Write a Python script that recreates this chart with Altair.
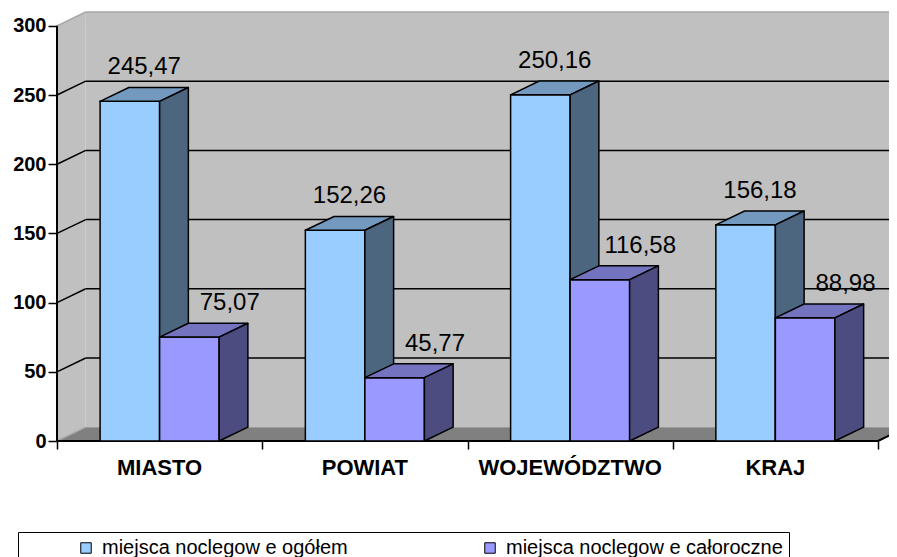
import altair as alt
import pandas as pd

# ---------------- data ----------------
categories = ["MIASTO", "POWIAT", "WOJEWÓDZTWO", "KRAJ"]
series_names = ["miejsca noclegow e ogółem", "miejsca noclegow e całoroczne"]
values_ogolem = [245.47, 152.26, 250.16, 156.18]
values_caloroczne = [75.07, 45.77, 116.58, 88.98]
y_ticks = [0, 50, 100, 150, 200, 250, 300]

# ---------------- style / geometry ----------------
FONT = "Liberation Sans"
FRONT = ["#99CCFF", "#9999FF"]
TOP = ["#7399BF", "#7373BF"]
SIDE = ["#4C6680", "#4C4C80"]
WALL = "#C0C0C0"
FLOOR = "#808080"
EDGE = "#A6A6A6"

PX_PER_CAT = 205.25
VIEW_W = 832
BAR_W = 0.29          # bar width in category units
DX = 0.14             # 3D depth, x (category units)
DY = 10.0             # 3D depth, y (value units)
X_MAX = VIEW_W / PX_PER_CAT
Y_MAX = 310.0
LABEL_DX = [0, 26]

n = len(categories)
y_top = y_ticks[-1]


def fmt(v):
    return f"{v:.2f}".replace(".", ",")


front_rows, side_rows, top_rows, label_rows = [], [], [], []
for s, vals in enumerate([values_ogolem, values_caloroczne]):
    for i, v in enumerate(vals):
        x0 = i + 0.5 - BAR_W + s * BAR_W
        x1 = x0 + BAR_W
        key = f"{s}-{i}"
        front_rows.append(dict(series=series_names[s], s=s, x0=x0, x1=x1, v=v, b=0.0))
        side_rows += [dict(key=key, s=s, x=x1, top=v, bot=0.0),
                      dict(key=key, s=s, x=x1 + DX, top=v + DY, bot=DY)]
        top_rows += [dict(key=key, s=s, y=v, xl=x0, xr=x1),
                     dict(key=key, s=s, y=v + DY, xl=x0 + DX, xr=x1 + DX)]
        label_rows.append(dict(s=s, x=(x0 + x1) / 2 + DX / 2, y=v + DY, text=fmt(v)))

df_front = pd.DataFrame(front_rows)
df_side = pd.DataFrame(side_rows)
df_top = pd.DataFrame(top_rows)
df_label = pd.DataFrame(label_rows)
df_cat = pd.DataFrame(dict(x=[i + 0.5 for i in range(n)], y=[0.0] * n, cat=categories))

xs = alt.Scale(domain=[0, X_MAX], nice=False, zero=False)
ys = alt.Scale(domain=[0, Y_MAX], nice=False, zero=False)

AX_X = alt.Axis(values=list(range(n + 1)), labels=False, domain=False, grid=False, ticks=True,
                tickSize=8, tickColor="black", tickWidth=1.5, title=None)
AX_Y = alt.Axis(values=y_ticks, domain=False, grid=False, tickSize=9, tickColor="black",
                tickWidth=1.5, labelFont=FONT, labelFontSize=20, labelFontWeight="bold",
                labelColor="black", labelPadding=2, title=None)


def X(f, **kw):
    return alt.X(f, scale=xs, axis=AX_X, **kw)


def Y(f, **kw):
    return alt.Y(f, scale=ys, axis=AX_Y, stack=None, **kw)


# back wall
df_back = pd.DataFrame([dict(x0=DX, x1=n + DX, y0=DY, y1=y_top + DY)])
back = alt.Chart(df_back).mark_rect(color=WALL).encode(
    x=X("x0:Q"), x2="x1:Q", y=Y("y0:Q"), y2="y1:Q")

# left wall
df_lw = pd.DataFrame([dict(x=0.0, top=float(y_top), bot=0.0), dict(x=DX, top=y_top + DY, bot=DY)])
left_wall = alt.Chart(df_lw).mark_area(color=WALL, orient="vertical").encode(
    x=X("x:Q"), y=Y("top:Q"), y2="bot:Q")

# floor
df_floor = pd.DataFrame([dict(y=0.0, xl=0.0, xr=float(n)), dict(y=DY, xl=DX, xr=n + DX)])
floor = alt.Chart(df_floor).mark_area(color=FLOOR, orient="horizontal").encode(
    y=Y("y:Q"), x=X("xl:Q"), x2="xr:Q")

# gridlines on back wall and left wall
grid_vals = y_ticks[1:-1]
df_gback = pd.DataFrame(dict(x=[DX] * len(grid_vals), x2=[n + DX] * len(grid_vals),
                             y=[g + DY for g in grid_vals]))
grid_back = alt.Chart(df_gback).mark_rule(color="black", strokeWidth=1.5).encode(
    x=X("x:Q"), x2="x2:Q", y=Y("y:Q"))
df_gleft = pd.DataFrame(dict(x=[0.0] * len(grid_vals), x2=[DX] * len(grid_vals),
                             y=[float(g) for g in grid_vals], y2=[g + DY for g in grid_vals]))
grid_left = alt.Chart(df_gleft).mark_rule(color="black", strokeWidth=1.5).encode(
    x=X("x:Q"), x2="x2:Q", y=Y("y:Q"), y2="y2:Q")

# light edges (wall top, wall bottom)
df_edges = pd.DataFrame([
    dict(x=0.0, x2=DX, y=float(y_top), y2=y_top + DY),
    dict(x=DX, x2=n + DX, y=y_top + DY, y2=y_top + DY),
    dict(x=0.0, x2=DX, y=0.0, y2=DY),
])
edges = alt.Chart(df_edges).mark_rule(color=EDGE, strokeWidth=1.5).encode(
    x=X("x:Q"), x2="x2:Q", y=Y("y:Q"), y2="y2:Q")

# axis lines
df_axes = pd.DataFrame([
    dict(x=0.0, x2=0.0, y=0.0, y2=float(y_top)),
    dict(x=0.0, x2=float(n), y=0.0, y2=0.0),
    dict(x=float(n), x2=n + DX, y=0.0, y2=DY),
])
axes = alt.Chart(df_axes).mark_rule(color="black", strokeWidth=2).encode(
    x=X("x:Q"), x2="x2:Q", y=Y("y:Q"), y2="y2:Q")

legend = alt.Legend(
    orient="none", legendX=-39, legendY=520, direction="horizontal",
    title=" ", titleOrient="left", titlePadding=52, padding=6,
    strokeColor="black", labelFont=FONT, labelFontSize=20, labelColor="black", labelLimit=700,
    symbolType="square", symbolSize=110, symbolStrokeColor="black", symbolStrokeWidth=1,
    labelOffset=6, columnPadding=132,
)
color = alt.Color("series:N", scale=alt.Scale(domain=series_names, range=FRONT), legend=legend)

bar_layers = []
for s in range(2):
    f = alt.Chart(df_front[df_front.s == s]).mark_rect(stroke="black", strokeWidth=1.5).encode(
        x=X("x0:Q"), x2="x1:Q", y=Y("v:Q"), y2="b:Q", color=color)
    t = alt.Chart(df_top[df_top.s == s]).mark_area(
        color=TOP[s], orient="horizontal", stroke="black", strokeWidth=1.5, strokeJoin="round").encode(
        y=Y("y:Q"), x=X("xl:Q"), x2="xr:Q", detail="key:N")
    sd = alt.Chart(df_side[df_side.s == s]).mark_area(
        color=SIDE[s], orient="vertical", stroke="black", strokeWidth=1.5, strokeJoin="round").encode(
        x=X("x:Q"), y=Y("top:Q"), y2="bot:Q", detail="key:N")
    bar_layers += [f, t, sd]

label_layers = []
for s in range(2):
    label_layers.append(
        alt.Chart(df_label[df_label.s == s]).mark_text(
            font=FONT, fontSize=24, color="black", baseline="alphabetic", dy=-13, dx=LABEL_DX[s]
        ).encode(x=X("x:Q"), y=Y("y:Q"), text="text:N"))

cat_text = alt.Chart(df_cat).mark_text(
    font=FONT, fontSize=22, fontWeight="bold", color="black", baseline="middle", dy=27
).encode(x=X("x:Q"), y=Y("y:Q"), text="cat:N")

chart = alt.layer(
    back, floor, left_wall, grid_back, grid_left, edges, axes, *bar_layers, *label_layers, cat_text
).properties(
    width=VIEW_W, height=429,
    padding={"left": 49, "top": 4, "right": 0, "bottom": 116},
    autosize=alt.AutoSizeParams(type="none"),
    background="white",
).configure_view(stroke=None)

chart.save("out.html", embed_options={"renderer": "svg", "actions": False})
